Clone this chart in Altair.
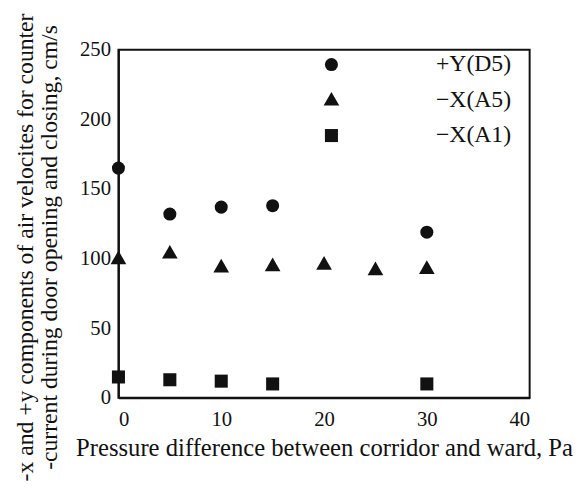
import altair as alt
import pandas as pd

series_names = ["+Y(D5)", "\u2212X(A5)", "\u2212X(A1)"]

d5_x = [0, 5, 10, 15, 30]
d5_y = [165, 132, 137, 138, 119]

a5_x = [0, 5, 10, 15, 20, 25, 30]
a5_y = [100, 104, 94, 95, 96, 92, 93]

a1_x = [0, 5, 10, 15, 30]
a1_y = [15, 13, 12, 10, 10]

x_ticks = [0, 10, 20, 30, 40]
y_ticks = [0, 50, 100, 150, 200, 250]

rows = []
for name, xs, ys in zip(series_names, [d5_x, a5_x, a1_x], [d5_y, a5_y, a1_y]):
    for xv, yv in zip(xs, ys):
        rows.append({"series": name, "x": xv, "y": yv})
df = pd.DataFrame(rows)

FONT = "Liberation Serif, Times New Roman, serif"
TRIANGLE = "M0,-1.25L1.2,0.85L-1.2,0.85Z"

chart = alt.Chart(df).mark_point(filled=True, opacity=1, color="#111111", size=175).encode(
    x=alt.X("x:Q", scale=alt.Scale(domain=[0, 40], nice=False),
            axis=alt.Axis(values=x_ticks, title="Pressure difference between corridor and ward, Pa",
                          grid=False, ticks=False, labelPadding=11, titlePadding=6,
                          labelFont=FONT, titleFont=FONT, labelFontSize=21, titleFontSize=25)),
    y=alt.Y("y:Q", scale=alt.Scale(domain=[0, 250], nice=False),
            axis=alt.Axis(values=y_ticks,
                          title=["-x and +y components of air velocites for counter",
                                 "-current during door opening and closing, cm/s"],
                          grid=False, ticks=False, labelPadding=8, titlePadding=18,
                          titleY=200, titleAlign="center", titleLineHeight=25,
                          labelFont=FONT, titleFont=FONT, labelFontSize=21, titleFontSize=24)),
    shape=alt.Shape("series:N",
                    scale=alt.Scale(domain=series_names, range=["circle", TRIANGLE, "square"]),
                    legend=alt.Legend(title=None, orient="none", legendX=204, legendY=3,
                                      symbolSize=175,
                                      symbolFillColor="#111111", symbolStrokeColor="#111111",
                                      labelOffset=94, rowPadding=12, labelFontSize=24,
                                      labelFont=FONT, labelColor="#111111")),
).properties(
    width=417, height=353,
    autosize=alt.AutoSizeParams(type="none"),
    padding={"left": 112, "top": 39, "right": 46, "bottom": 84},
).configure(
    font=FONT
).configure_view(
    stroke="#111111", strokeWidth=2
).configure_axis(
    domainColor="#111111", domainWidth=2,
    labelColor="#111111", titleColor="#111111", titleFontWeight="normal",
)

chart.save("out.html", embed_options={"renderer": "svg", "actions": False})
